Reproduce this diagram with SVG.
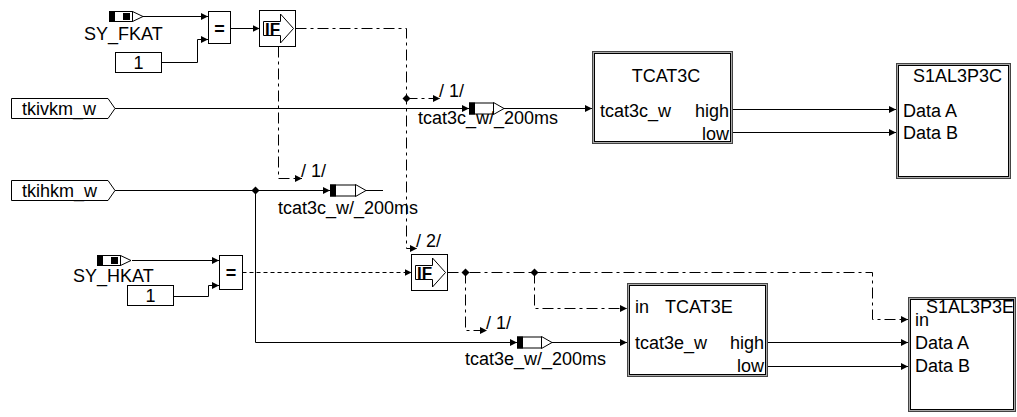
<svg xmlns="http://www.w3.org/2000/svg" xmlns:xlink="http://www.w3.org/1999/xlink" width="1017" height="417" viewBox="0 0 1017 417">
<style>
text{font-family:"Liberation Sans",Arial,sans-serif;font-size:18px;fill:#000}
.ln{fill:none;stroke:#000;stroke-width:1}
.dd{fill:none;stroke:#000;stroke-width:1;stroke-dasharray:11 4 3 4}
.da{fill:none;stroke:#000;stroke-width:1;stroke-dasharray:4 3}
.bx{fill:#fff;stroke:#000;stroke-width:1}
.fo{fill:#fff;stroke:#444;stroke-width:1}
.fm{fill:none;stroke:#aaa;stroke-width:1}
.fi{fill:none;stroke:#000;stroke-width:1}
.blk{fill:#000;stroke:none}
.jn{fill:#000;stroke:none}
.ifb{font-weight:bold;font-size:17px}
</style>
<defs>
<marker id="ar" markerUnits="userSpaceOnUse" markerWidth="7" markerHeight="7" refX="7" refY="3.5" orient="auto">
<path d="M0,0 L7,3.5 L0,7 Z" fill="#000" stroke="none"/>
</marker>
<g id="ifsym">
<rect class="bx" x="0" y="0" width="36" height="36"/>
<path class="bx" d="M4,11 H21 V3.5 L34,18 L21,32.5 V25 H4 Z"/>
<text class="ifb" x="5.5" y="24.5">IF</text>
</g>
</defs>

<g id="connectors">
<path class="ln" d="M143,16.5 H208" marker-end="url(#ar)"/>
<path class="ln" d="M162,62.5 H197.5 V39.5 H208" marker-end="url(#ar)"/>
<path class="ln" d="M230.5,28.5 H259.5" marker-end="url(#ar)"/>
<path class="dd" d="M295.5,28.5 H406.5 V248.5 H417" marker-end="url(#ar)"/>
<path class="dd" d="M406.5,98.5 H440" marker-end="url(#ar)"/>
<text x="439" y="97">/ 1/</text>
<path class="dd" d="M278.5,46.5 V178.5 H302" marker-end="url(#ar)"/>
<text x="301" y="177">/ 1/</text>
<text x="416" y="247">/ 2/</text>
<path class="ln" d="M115,108.5 H469" marker-end="url(#ar)"/>
<path class="ln" d="M504,108.5 H592" marker-end="url(#ar)"/>
<path class="ln" d="M733,109.5 H896" marker-end="url(#ar)"/>
<path class="ln" d="M733,132.5 H896" marker-end="url(#ar)"/>
<path class="ln" d="M115,190.5 H330" marker-end="url(#ar)"/>
<path class="ln" d="M366,190.5 H383"/>
<path class="ln" d="M255.5,190.5 V342.5 H517" marker-end="url(#ar)"/>
<path class="ln" d="M552,342.5 H627" marker-end="url(#ar)"/>
<path class="ln" d="M132,260.5 H219" marker-end="url(#ar)"/>
<path class="ln" d="M173,296.5 H208.5 V285.5 H219" marker-end="url(#ar)"/>
<path class="da" d="M242.5,272.5 H411.5" marker-end="url(#ar)"/>
<path class="dd" d="M447.5,272.5 H872.5 V319.5 H908" marker-end="url(#ar)"/>
<path class="dd" d="M465.5,272.5 V330.5 H487" marker-end="url(#ar)"/>
<text x="486" y="329">/ 1/</text>
<path class="dd" d="M534.5,272.5 V308.5 H627" marker-end="url(#ar)"/>
<path class="ln" d="M768,342.5 H908" marker-end="url(#ar)"/>
<path class="ln" d="M768,366.5 H908" marker-end="url(#ar)"/>
<polygon class="jn" points="406.5,94.5 410.5,98.5 406.5,102.5 402.5,98.5"/>
<polygon class="jn" points="255.5,186.5 259.5,190.5 255.5,194.5 251.5,190.5"/>
<polygon class="jn" points="465.5,268.5 469.5,272.5 465.5,276.5 461.5,272.5"/>
<polygon class="jn" points="534.5,268.5 538.5,272.5 534.5,276.5 530.5,272.5"/>
</g>

<g id="n_sy_fkat">
<rect class="bx" x="109.5" y="11.5" width="23" height="10"/>
<rect class="blk" x="109" y="11" width="6" height="11"/>
<rect class="blk" x="123" y="13" width="7" height="7"/>
<path class="bx" d="M132.5,11.5 L143,16.5 L132.5,21.5 Z"/>
<text x="84" y="40">SY_FKAT</text>
</g>
<g id="n_const1">
<rect class="bx" x="115.5" y="52.5" width="46" height="20"/>
<text x="138.5" y="69" text-anchor="middle">1</text>
</g>
<g id="n_eq1">
<rect class="bx" x="208.5" y="11.5" width="22" height="32"/>
<text x="219.5" y="35" text-anchor="middle" font-weight="bold">=</text>
</g>
<g id="n_if1"><use xlink:href="#ifsym" transform="translate(259.5,10.5)"/></g>

<g id="n_tkivkm_w">
<path class="bx" d="M11.5,98.5 H108 L115,108.5 L108,118.5 H11.5 Z"/>
<text x="22" y="115">tkivkm_w</text>
</g>
<g id="n_tkihkm_w">
<path class="bx" d="M11.5,180.5 H108 L115,190.5 L108,200.5 H11.5 Z"/>
<text x="22" y="197">tkihkm_w</text>
</g>

<g id="n_msg_tcat3c_1">
<rect class="bx" x="469.5" y="103" width="24" height="11"/>
<rect class="blk" x="469" y="102.5" width="6" height="12"/>
<path class="bx" d="M493.5,102.5 L504,108.5 L493.5,114.5 Z"/>
<text x="418" y="124">tcat3c_w/_200ms</text>
</g>
<g id="n_msg_tcat3c_2">
<rect class="bx" x="330.5" y="185" width="25" height="11"/>
<rect class="blk" x="330" y="184.5" width="6" height="12"/>
<path class="bx" d="M355.5,184.5 L366,190.5 L355.5,196.5 Z"/>
<text x="278" y="214">tcat3c_w/_200ms</text>
</g>
<g id="n_msg_tcat3e">
<rect class="bx" x="517.5" y="337" width="24" height="11"/>
<rect class="blk" x="517" y="336.5" width="6" height="12"/>
<path class="bx" d="M541.5,336.5 L552,342.5 L541.5,348.5 Z"/>
<text x="465" y="365">tcat3e_w/_200ms</text>
</g>

<g id="n_tcat3c">
<rect class="fo" x="592.5" y="51.5" width="140" height="92"/>
<rect class="fm" x="593.5" y="52.5" width="138" height="90"/>
<rect class="fi" x="594.5" y="53.5" width="136" height="88"/>
<text x="666" y="82" text-anchor="middle">TCAT3C</text>
<text x="600" y="117">tcat3c_w</text>
<text x="729" y="117" text-anchor="end">high</text>
<text x="729" y="140" text-anchor="end">low</text>
</g>
<g id="n_s1al3p3c">
<rect class="fo" x="896.5" y="63.5" width="114" height="115"/>
<rect class="fm" x="897.5" y="64.5" width="112" height="113"/>
<rect class="fi" x="898.5" y="65.5" width="110" height="111"/>
<text x="913" y="82">S1AL3P3C</text>
<text x="903" y="117">Data A</text>
<text x="903" y="139">Data B</text>
</g>

<g id="n_sy_hkat">
<rect class="bx" x="97.5" y="255.5" width="23" height="10"/>
<rect class="blk" x="97" y="255" width="6" height="11"/>
<rect class="blk" x="111" y="257" width="7" height="7"/>
<path class="bx" d="M120.5,255.5 L131,260.5 L120.5,265.5 Z"/>
<text x="73" y="282">SY_HKAT</text>
</g>
<g id="n_const2">
<rect class="bx" x="127.5" y="285.5" width="46" height="20"/>
<text x="150.5" y="302" text-anchor="middle">1</text>
</g>
<g id="n_eq2">
<rect class="bx" x="219.5" y="255.5" width="23" height="34"/>
<text x="231" y="279" text-anchor="middle" font-weight="bold">=</text>
</g>
<g id="n_if2"><use xlink:href="#ifsym" transform="translate(411.5,254.5)"/></g>

<g id="n_tcat3e">
<rect class="fo" x="627.5" y="283.5" width="140" height="93"/>
<rect class="fm" x="628.5" y="284.5" width="138" height="91"/>
<rect class="fi" x="629.5" y="285.5" width="136" height="89"/>
<text x="635" y="313">in</text>
<text x="665" y="313">TCAT3E</text>
<text x="635" y="349">tcat3e_w</text>
<text x="764" y="349" text-anchor="end">high</text>
<text x="764" y="372" text-anchor="end">low</text>
</g>
<g id="n_s1al3p3e">
<rect class="fo" x="908.5" y="297.5" width="107" height="114"/>
<rect class="fm" x="909.5" y="298.5" width="105" height="112"/>
<rect class="fi" x="910.5" y="299.5" width="103" height="110"/>
<text x="926" y="313">S1AL3P3E</text>
<text x="915" y="326">in</text>
<text x="915" y="349">Data A</text>
<text x="915" y="372">Data B</text>
</g>
</svg>
